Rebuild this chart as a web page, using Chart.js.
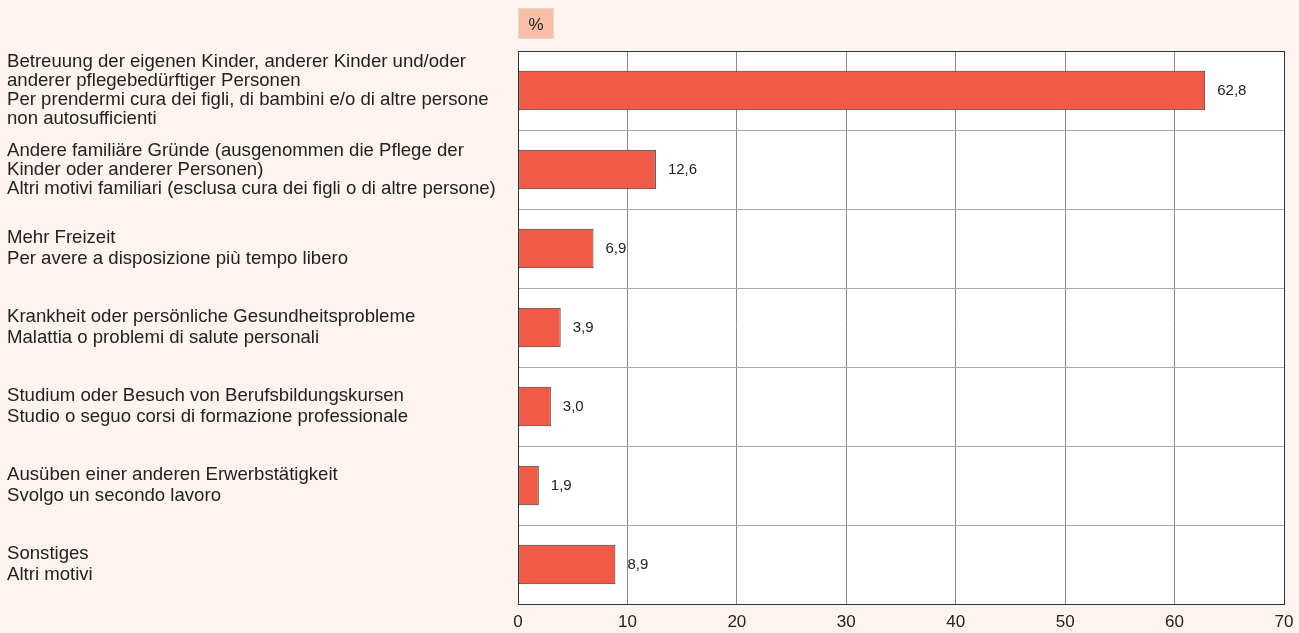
<!DOCTYPE html>
<html>
<head>
<meta charset="utf-8">
<script src="https://cdn.jsdelivr.net/npm/chart.js@4"></script>
<style>
  html, body { margin: 0; padding: 0; background: #fef3ee; }
  canvas { display: block; }
</style>
</head>
<body>
<canvas id="chart" width="1299" height="633"></canvas>
<script>
const labels = [
    ['Betreuung der eigenen Kinder, anderer Kinder und/oder', 'anderer pflegebedürftiger Personen', 'Per prendermi cura dei figli, di bambini e/o di altre persone', 'non autosufficienti'],
    ['Andere familiäre Gründe (ausgenommen die Pflege der', 'Kinder oder anderer Personen)', 'Altri motivi familiari (esclusa cura dei figli o di altre persone)'],
    ['Mehr Freizeit', 'Per avere a disposizione più tempo libero'],
    ['Krankheit oder persönliche Gesundheitsprobleme', 'Malattia o problemi di salute personali'],
    ['Studium oder Besuch von Berufsbildungskursen', 'Studio o seguo corsi di formazione professionale'],
    ['Ausüben einer anderen Erwerbstätigkeit', 'Svolgo un secondo lavoro'],
    ['Sonstiges', 'Altri motivi']
];
const values = [62.8, 12.6, 6.9, 3.9, 3.0, 1.9, 8.9];
const unitLabel = '%';

const FONT = '"Liberation Sans", Arial, sans-serif';

// value labels, frame and the % box
const extras = {
    id: 'extras',
    beforeDraw(chart) {
        const a = chart.chartArea;
        const ctx = chart.ctx;
        ctx.save();
        ctx.fillStyle = '#ffffff';
        ctx.fillRect(a.left, a.top, a.right - a.left, a.bottom - a.top);
        // % box
        ctx.fillStyle = '#fbbfa8';
        ctx.strokeStyle = '#e2d6d0';
        ctx.lineWidth = 1;
        ctx.fillRect(a.left, 8, 36, 31);
        ctx.strokeRect(a.left + 0.5, 8.5, 35, 30);
        ctx.fillStyle = '#222';
        ctx.font = '17px ' + FONT;
        ctx.textAlign = 'center';
        ctx.textBaseline = 'middle';
        ctx.fillText(unitLabel, a.left + 18, 25);
        ctx.restore();
    },
    afterDatasetsDraw(chart) {
        const a = chart.chartArea;
        const ctx = chart.ctx;
        ctx.save();
        ctx.strokeStyle = '#333';
        ctx.lineWidth = 1;
        ctx.strokeRect(Math.round(a.left) + 0.5, Math.round(a.top) + 0.5, Math.round(a.right - a.left), Math.round(a.bottom - a.top));
        ctx.fillStyle = '#222';
        ctx.font = '15px ' + FONT;
        ctx.textAlign = 'left';
        ctx.textBaseline = 'middle';
        chart.getDatasetMeta(0).data.forEach((bar, i) => {
            ctx.fillText(values[i].toFixed(1).replace('.', ','), bar.x + 12, bar.y);
        });
        ctx.restore();
    }
};

const canvas = document.getElementById('chart');
new Chart(canvas, {
    type: 'bar',
    data: {
        labels: labels,
        datasets: [{
            data: values,
            backgroundColor: '#f15a46',
            borderColor: '#3e302c',
            borderWidth: 1,
            borderSkipped: false,
            categoryPercentage: 1,
            barPercentage: 0.5
        }]
    },
    options: {
        indexAxis: 'y',
        responsive: false,
        animation: false,
        layout: { padding: { left: 7, top: 51, right: 15, bottom: 0 } },
        plugins: {
            legend: { display: false },
            tooltip: { enabled: false }
        },
        scales: {
            x: {
                min: 0,
                max: 70,
                ticks: { stepSize: 10, color: '#222', font: { family: FONT, size: 17 }, padding: 8 },
                grid: { color: '#8a8a8a', drawTicks: false },
                border: { display: false },
                afterFit(scale) {
                    scale.height = 29;
                    scale.paddingLeft = 0;
                    scale.paddingRight = 0;
                }
            },
            y: {
                ticks: {
                    color: '#222',
                    crossAlign: 'far',
                    font: (ctx) => ({ family: FONT, size: 18.6, lineHeight: ctx.index < 2 ? '19px' : '21px' }),
                    autoSkip: false
                },
                grid: { color: '#aaaaaa', drawTicks: false },
                border: { display: false },
                afterFit(scale) {
                    scale.width = 511;
                    scale.paddingTop = 0;
                    scale.paddingBottom = 0;
                }
            }
        }
    },
    plugins: [extras]
});
</script>
</body>
</html>
